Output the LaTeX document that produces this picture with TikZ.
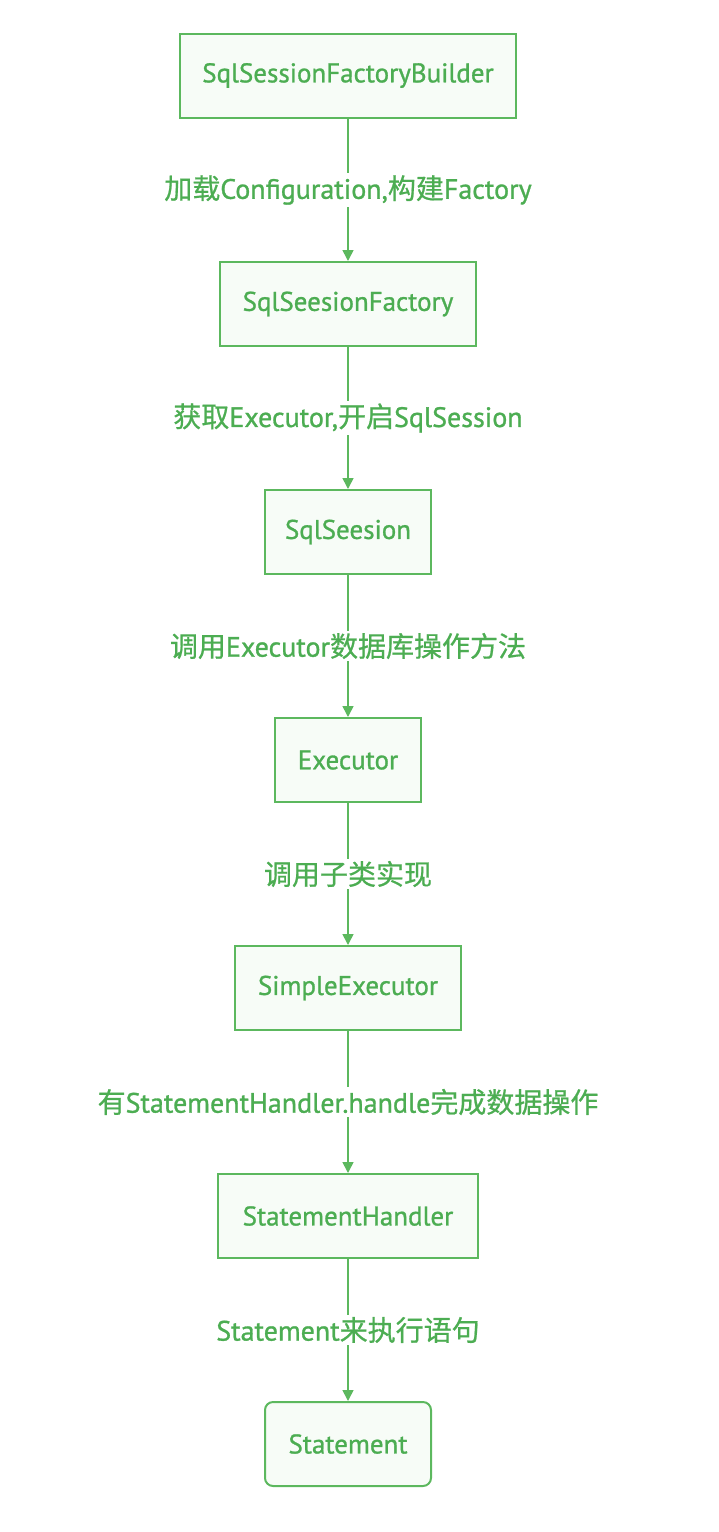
\documentclass[tikz,border=0pt]{standalone}
\usepackage{fontspec}
\setmainfont{PT Sans}[FakeBold=1.0]
\newfontfamily\cjk{Noto Sans CJK SC}[FakeBold=0.7]
\usetikzlibrary{arrows.meta}
\definecolor{edge}{HTML}{5CB85E}
\definecolor{txt}{HTML}{4CAD52}
\definecolor{boxfill}{HTML}{F7FCF7}
\tikzset{
  stepbox/.style={draw=edge, line width=2pt, fill=boxfill, text=txt, font=\fontsize{27}{30}\selectfont, inner sep=0pt, minimum height=84pt},
  lbl/.style={fill=white, text=txt, font=\fontsize{28}{30}\selectfont, inner sep=2pt},
  conn/.style={draw=edge, line width=1.6pt, -{Triangle[length=11pt,width=11pt]}}
}
\begin{document}
\begin{tikzpicture}[x=1pt,y=-1pt]
\useasboundingbox (0,0) rectangle (718,1532);
\node[stepbox, minimum width=336pt] (b1) at (348,75.5) {SqlSessionFactoryBuilder};
\node[stepbox, minimum width=256pt] (b2) at (348,304) {SqlSeesionFactory};
\node[stepbox, minimum width=166pt] (b3) at (348,532) {SqlSeesion};
\node[stepbox, minimum width=146pt] (b4) at (348,760) {Executor};
\node[stepbox, minimum width=226pt] (b5) at (348,988) {SimpleExecutor};
\node[stepbox, minimum width=260pt] (b6) at (348,1216) {StatementHandler};
\node[stepbox, minimum width=166pt, rounded corners=8pt] (b7) at (348,1444) {Statement};
\draw[conn] (b1) -- (b2);
\draw[conn] (b2) -- (b3);
\draw[conn] (b3) -- (b4);
\draw[conn] (b4) -- (b5);
\draw[conn] (b5) -- (b6);
\draw[conn] (b6) -- (b7);
\node[lbl] (l1) at (348,190) {{\cjk 加载}Configuration,{\cjk 构建}Factory};
\node[lbl] (l2) at (348,418) {{\cjk 获取}Executor,{\cjk 开启}SqlSession};
\node[lbl] (l3) at (348,646) {{\cjk 调用}Executor{\cjk 数据库操作方法}};
\node[lbl] (l4) at (348,874) {{\cjk 调用子类实现}};
\node[lbl] (l5) at (348,1102) {{\cjk 有}StatementHandler.handle{\cjk 完成数据操作}};
\node[lbl] (l6) at (348,1330) {Statement{\cjk 来执行语句}};
\end{tikzpicture}
\end{document}
